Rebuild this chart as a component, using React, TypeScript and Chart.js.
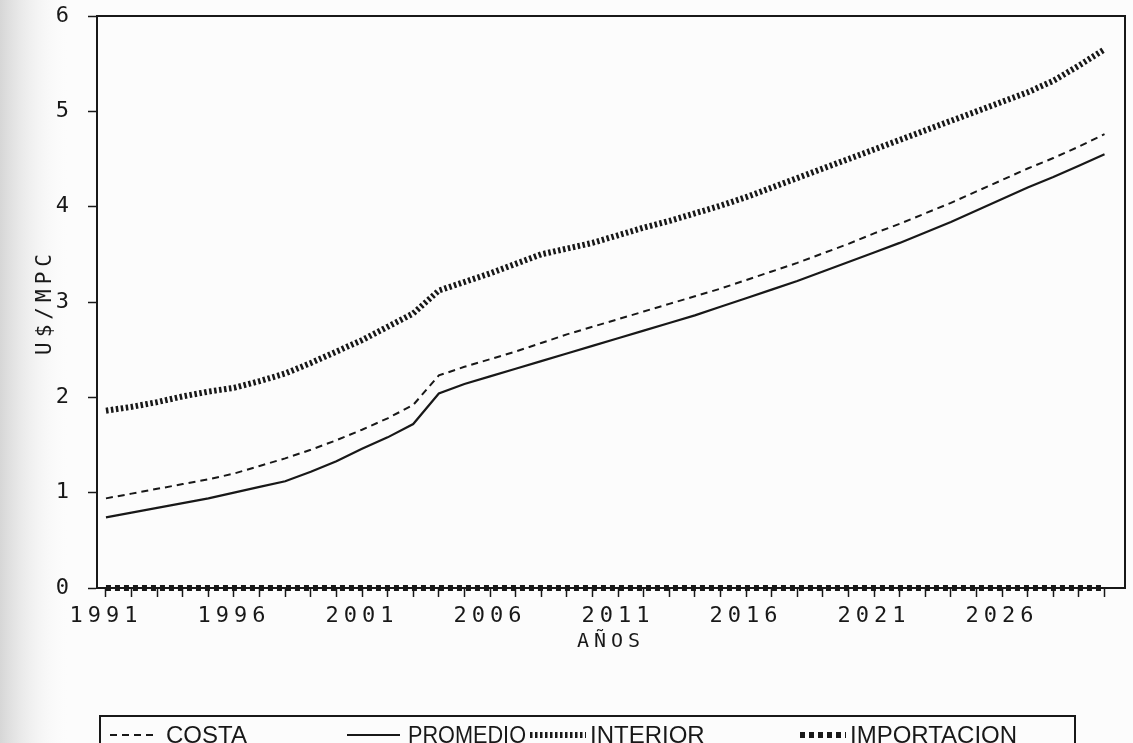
import React, { useEffect, useRef } from 'react';
import { Chart, registerables } from 'chart.js';

Chart.register(...registerables);

// ---- data ----
const years = [
  1991, 1992, 1993, 1994, 1995, 1996, 1997, 1998, 1999, 2000,
  2001, 2002, 2003, 2004, 2005, 2006, 2007, 2008, 2009, 2010,
  2011, 2012, 2013, 2014, 2015, 2016, 2017, 2018, 2019, 2020,
  2021, 2022, 2023, 2024, 2025, 2026, 2027, 2028, 2029, 2030,
];

const costa = [
  0.94, 0.99, 1.04, 1.09, 1.14, 1.20, 1.28, 1.36, 1.45, 1.55,
  1.66, 1.78, 1.92, 2.23, 2.32, 2.40, 2.48, 2.57, 2.66, 2.74,
  2.82, 2.90, 2.98, 3.06, 3.14, 3.23, 3.32, 3.41, 3.51, 3.61,
  3.72, 3.82, 3.93, 4.04, 4.16, 4.28, 4.40, 4.51, 4.63, 4.76,
];

const promedio = [
  0.74, 0.79, 0.84, 0.89, 0.94, 1.00, 1.06, 1.12, 1.22, 1.33,
  1.46, 1.58, 1.72, 2.04, 2.14, 2.22, 2.30, 2.38, 2.46, 2.54,
  2.62, 2.70, 2.78, 2.86, 2.95, 3.04, 3.13, 3.22, 3.32, 3.42,
  3.52, 3.62, 3.73, 3.84, 3.96, 4.08, 4.20, 4.31, 4.43, 4.55,
];

const interior = [
  1.86, 1.90, 1.95, 2.01, 2.06, 2.10, 2.17, 2.25, 2.36, 2.48,
  2.60, 2.74, 2.88, 3.12, 3.21, 3.30, 3.40, 3.50, 3.56, 3.62,
  3.70, 3.78, 3.85, 3.93, 4.01, 4.10, 4.20, 4.30, 4.40, 4.50,
  4.60, 4.70, 4.80, 4.90, 5.00, 5.10, 5.20, 5.32, 5.48, 5.65,
];

const importacion = [
  0, 0, 0, 0, 0, 0, 0, 0, 0, 0,
  0, 0, 0, 0, 0, 0, 0, 0, 0, 0,
  0, 0, 0, 0, 0, 0, 0, 0, 0, 0,
  0, 0, 0, 0, 0, 0, 0, 0, 0, 0,
];

const xLabelYears = [1991, 1996, 2001, 2006, 2011, 2016, 2021, 2026];
const yTickValues = [0, 1, 2, 3, 4, 5, 6];
const seriesNames = ['COSTA', 'PROMEDIO', 'INTERIOR', 'IMPORTACION'];
const yTitle = 'U$/MPC';
const xTitle = 'AÑOS';

// ---- styling ----
const INK = '#181818';
const MONO = '"DejaVu Sans Mono", monospace';

const toPoints = (vals: number[]) => years.map((x, i) => ({ x, y: vals[i] }));

const bgPlugin = {
  id: 'bgPaper',
  beforeDraw(chart: any) {
    const { ctx, width, height } = chart;
    ctx.save();
    ctx.fillStyle = '#fcfcfc';
    ctx.fillRect(0, 0, width, height);
    const g = ctx.createLinearGradient(0, 0, 70, 0);
    g.addColorStop(0, '#d6d6d6');
    g.addColorStop(1, 'rgba(252,252,252,0)');
    ctx.fillStyle = g;
    ctx.fillRect(0, 0, 70, height);
    ctx.restore();
    ctx.letterSpacing = '5px';
  },
};

const framePlugin = {
  id: 'frameBox',
  afterDatasetsDraw(chart: any) {
    const { ctx, chartArea } = chart;
    ctx.save();
    ctx.strokeStyle = INK;
    ctx.lineWidth = 2;
    ctx.beginPath();
    ctx.moveTo(chartArea.left, chartArea.top);
    ctx.lineTo(chartArea.right, chartArea.top);
    ctx.lineTo(chartArea.right, chartArea.bottom);
    ctx.stroke();
    ctx.restore();
  },
};

const legendPlugin = {
  id: 'boxLegend',
  afterDraw(chart: any) {
    const { ctx } = chart;
    ctx.save();
    ctx.letterSpacing = '0px';
    const top = 716;
    const rowY = 735;
    ctx.strokeStyle = INK;
    ctx.lineWidth = 2;
    ctx.setLineDash([]);
    ctx.beginPath();
    ctx.moveTo(100, 760);
    ctx.lineTo(100, top);
    ctx.lineTo(1075, top);
    ctx.lineTo(1075, 760);
    ctx.stroke();

    const slots = [
      { s0: 110, s1: 158, tx: 166, tw: 90 },
      { s0: 347, s1: 400, tx: 408, tw: 118 },
      { s0: 530, s1: 586, tx: 590, tw: 160 },
      { s0: 800, s1: 846, tx: 850, tw: 182 },
    ];
    chart.data.datasets.forEach((ds: any, i: number) => {
      const sl = slots[i];
      ctx.strokeStyle = INK;
      ctx.lineWidth = ds.borderWidth;
      ctx.setLineDash(ds.borderDash || []);
      ctx.beginPath();
      ctx.moveTo(sl.s0, rowY);
      ctx.lineTo(sl.s1, rowY);
      ctx.stroke();
      ctx.setLineDash([]);
      ctx.fillStyle = INK;
      ctx.font = '24px "Liberation Sans", Arial, sans-serif';
      ctx.textBaseline = 'middle';
      ctx.textAlign = 'left';
      ctx.fillText(seriesNames[i], sl.tx, rowY + 1, sl.tw);
    });
    ctx.restore();
  },
};

export default function App() {
  const ref = useRef<HTMLCanvasElement | null>(null);

  useEffect(() => {
    if (!ref.current) return;
    const chart = new Chart(ref.current, {
      type: 'line',
      data: {
        datasets: [
          {
            label: seriesNames[0],
            data: toPoints(costa),
            borderColor: INK,
            borderWidth: 2,
            borderDash: [7, 5],
            pointRadius: 0,
            tension: 0,
          },
          {
            label: seriesNames[1],
            data: toPoints(promedio),
            borderColor: INK,
            borderWidth: 2.2,
            pointRadius: 0,
            tension: 0,
          },
          {
            label: seriesNames[2],
            data: toPoints(interior),
            borderColor: INK,
            borderWidth: 6,
            borderDash: [2.5, 2.5],
            pointRadius: 0,
            tension: 0,
          },
          {
            label: seriesNames[3],
            data: toPoints(importacion),
            borderColor: INK,
            borderWidth: 6,
            borderDash: [5, 4],
            pointRadius: 0,
            tension: 0,
            clip: 12,
          },
        ] as any,
      },
      options: {
        animation: false,
        responsive: false,
        devicePixelRatio: 1,
        layout: { padding: { top: 16, right: 8, bottom: 85, left: 0 } },
        plugins: {
          legend: { display: false },
          tooltip: { enabled: false },
        },
        scales: {
          x: {
            type: 'linear',
            min: 1990.65,
            max: 2030.8,
            afterBuildTicks: (s: any) => {
              s.ticks = years.map((v) => ({ value: v }));
            },
            afterFit: (s: any) => {
              s.height = 70;
              s.paddingLeft = 0;
              s.paddingRight = 0;
            },
            ticks: {
              autoSkip: false,
              maxRotation: 0,
              minRotation: 0,
              padding: 6,
              color: INK,
              font: { family: MONO, size: 22 },
              callback: (v: any) => (xLabelYears.includes(Number(v)) ? String(v) : ''),
            },
            grid: {
              drawOnChartArea: false,
              drawTicks: true,
              tickLength: 9,
              tickColor: INK,
              tickWidth: 1.5,
            },
            border: { display: true, color: INK, width: 2 },
            title: {
              display: true,
              text: xTitle,
              color: INK,
              font: { family: MONO, size: 20 },
              padding: { top: 0, bottom: 4 },
            },
          },
          y: {
            min: 0,
            max: 6,
            afterBuildTicks: (s: any) => {
              s.ticks = yTickValues.map((v) => ({ value: v }));
            },
            afterFit: (s: any) => {
              s.width = 97;
              s.paddingTop = 0;
              s.paddingBottom = 0;
            },
            ticks: {
              padding: 14,
              color: INK,
              font: { family: MONO, size: 22 },
            },
            grid: {
              drawOnChartArea: false,
              drawTicks: true,
              tickLength: 9,
              tickColor: INK,
              tickWidth: 1.5,
            },
            border: { display: true, color: INK, width: 2 },
            title: {
              display: true,
              text: yTitle,
              color: INK,
              font: { family: MONO, size: 21 },
              padding: { top: 33, bottom: 0 },
            },
          },
        },
      } as any,
      plugins: [bgPlugin, framePlugin, legendPlugin],
    });
    return () => chart.destroy();
  }, []);

  return (
    <div style={{ position: 'absolute', left: 0, top: 0, width: 1133, height: 743 }}>
      <canvas ref={ref} width={1133} height={743} style={{ display: 'block' }} />
    </div>
  );
}
